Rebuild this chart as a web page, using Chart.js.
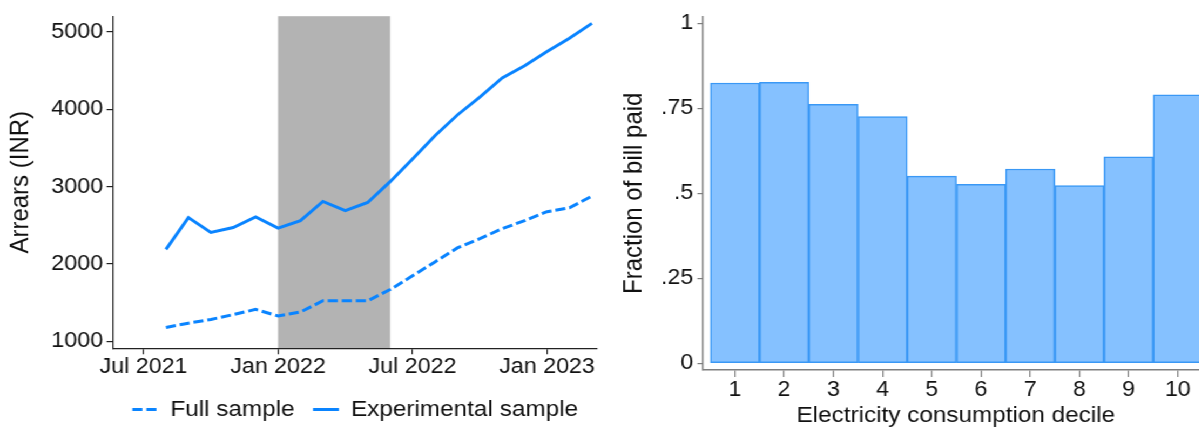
<!DOCTYPE html>
<html>
<head>
<meta charset="utf-8">
<title>Arrears and fraction of bill paid</title>
<script src="https://cdn.jsdelivr.net/npm/chart.js@4.4.1/dist/chart.umd.min.js"></script>
<style>
    html, body { margin: 0; padding: 0; overflow: hidden; background: #fff; }
    /* the source figure is slightly stretched sideways, so the page is too */
    #wrap { position: relative; width: 1111px; height: 427px; transform: scaleX(1.08); transform-origin: 0 0; }
    #left { position: absolute; left: 0; top: 0; }
    #right { position: absolute; left: 555px; top: 0; }
</style>
</head>
<body>
<div id="wrap">
    <canvas id="left" width="555" height="427"></canvas>
    <canvas id="right" width="565" height="427"></canvas>
</div>
<script>
// months counted from Jul 2021 = 0
const months = [1, 2, 3, 4, 5, 6, 7, 8, 9, 10, 11, 12, 13, 14, 15, 16, 17, 18, 19, 20];
const fullSample = [1181, 1236, 1283, 1347, 1414, 1329, 1380, 1525, 1525, 1525,
                    1670, 1848, 2027, 2209, 2329, 2457, 2562, 2677, 2728, 2877];
const experimentalSample = [2189, 2601, 2409, 2473, 2610, 2464, 2562, 2809, 2690, 2796,
                            3065, 3359, 3658, 3927, 4158, 4406, 4564, 4748, 4919, 5111];
const monthTicks = [0, 6, 12, 18];
const monthTickLabels = ['Jul 2021', 'Jan 2022', 'Jul 2022', 'Jan 2023'];
const arrearsTicks = [1000, 2000, 3000, 4000, 5000];
const shadedMonths = [6, 11];

const deciles = [1, 2, 3, 4, 5, 6, 7, 8, 9, 10];
const fractionPaid = [0.825, 0.827, 0.762, 0.726, 0.551, 0.527, 0.572, 0.523, 0.608, 0.790];
const fractionTicks = [0, 0.25, 0.5, 0.75, 1];
const fractionTickLabels = ['0', '.25', '.5', '.75', '1'];

const BLUE = '#0a84ff';
const TICK_FONT = { size: 21.5 };
Chart.defaults.font.family = '"Liberation Sans", Arial, Helvetica, sans-serif';
Chart.defaults.font.size = 21.5;
Chart.defaults.color = '#111';

const shadePlugin = {
    id: 'shade',
    beforeDraw(chart) {
        const { ctx, chartArea, scales } = chart;
        const x0 = scales.x.getPixelForValue(shadedMonths[0]);
        const x1 = scales.x.getPixelForValue(shadedMonths[1]);
        ctx.save();
        ctx.fillStyle = '#b3b3b3';
        ctx.fillRect(x0, chartArea.top, x1 - x0, chartArea.bottom - chartArea.top);
        ctx.restore();
    }
};

function points(xs, ys) {
    return xs.map((x, i) => ({ x: x, y: ys[i] }));
}

// legend samples as short lines with the dataset's own dash
function lineLabels(chart) {
    return Chart.defaults.plugins.legend.labels.generateLabels(chart).map(item => {
        const ds = chart.data.datasets[item.datasetIndex];
        item.pointStyle = 'line';
        item.lineDash = ds.borderDash || [];
        item.lineWidth = ds.borderWidth;
        item.strokeStyle = ds.borderColor;
        return item;
    });
}

new Chart(document.getElementById('left'), {
    type: 'line',
    data: {
        datasets: [{
            label: 'Full sample',
            data: points(months, fullSample),
            borderColor: BLUE,
            borderWidth: 3,
            borderDash: [9.3, 3.7],
            pointRadius: 0,
            tension: 0
        }, {
            label: 'Experimental sample',
            data: points(months, experimentalSample),
            borderColor: BLUE,
            borderWidth: 3,
            pointRadius: 0,
            tension: 0
        }]
    },
    options: {
        responsive: false,
        animation: false,
        layout: { padding: { top: 12, right: 2.2, left: 0, bottom: 0 } },
        plugins: {
            legend: {
                position: 'bottom',
                fullSize: false,
                maxHeight: 45.75,
                labels: {
                    usePointStyle: true,
                    pointStyleWidth: 24,
                    padding: 17,
                    color: '#111',
                    font: { size: 22.5 },
                    generateLabels: lineLabels
                }
            },
            tooltip: { enabled: false }
        },
        scales: {
            x: {
                type: 'linear',
                min: -1.35,
                max: 20.23,
                afterFit: s => { s.height = 32.95; },
                afterBuildTicks: s => { s.ticks = monthTicks.map(v => ({ value: v })); },
                ticks: {
                    padding: 0,
                    maxRotation: 0,
                    font: TICK_FONT,
                    callback: v => monthTickLabels[monthTicks.indexOf(v)]
                },
                grid: { drawOnChartArea: false, tickLength: 6, color: '#222', lineWidth: 1.2 },
                border: { color: '#222', width: 1.3 }
            },
            y: {
                min: 911,
                max: 5204,
                afterFit: s => { s.width = 104.9; },
                afterBuildTicks: s => { s.ticks = arrearsTicks.map(v => ({ value: v })); },
                ticks: { padding: 3.3, font: TICK_FONT, callback: v => String(v) },
                grid: { drawOnChartArea: false, tickLength: 6.2, color: '#222', lineWidth: 1.2 },
                border: { color: '#222', width: 1.2 },
                title: {
                    display: true,
                    text: 'Arrears (INR)',
                    font: { size: 24 },
                    padding: { top: 4.8, bottom: 0 }
                }
            }
        }
    },
    plugins: [shadePlugin]
});

new Chart(document.getElementById('right'), {
    type: 'bar',
    data: {
        datasets: [{
            label: 'Fraction of bill paid',
            data: points(deciles, fractionPaid),
            backgroundColor: '#85c1ff',
            borderColor: '#3a98f5',
            borderWidth: 1.5,
            borderSkipped: false,
            barPercentage: 1,
            categoryPercentage: 1
        }]
    },
    options: {
        responsive: false,
        animation: false,
        layout: { padding: { top: 12, right: 0.7, left: 0, bottom: 0 } },
        plugins: {
            legend: { display: false },
            tooltip: { enabled: false }
        },
        scales: {
            x: {
                type: 'linear',
                offset: false,
                min: 0.343,
                max: 10.63,
                afterFit: s => { s.height = 57; },
                afterBuildTicks: s => { s.ticks = deciles.map(v => ({ value: v })); },
                ticks: { padding: 0, maxRotation: 0, font: TICK_FONT },
                grid: { offset: false, drawOnChartArea: false, tickLength: 7, color: '#7f7f7f', lineWidth: 1.2 },
                border: { color: '#7f7f7f', width: 1.4 },
                title: {
                    display: true,
                    text: 'Electricity consumption decile',
                    font: { size: 22.5, lineHeight: 1 },
                    padding: { top: 0, bottom: 0 }
                }
            },
            y: {
                min: -0.0195,
                max: 1.0203,
                afterFit: s => { s.width = 95.6; },
                afterBuildTicks: s => { s.ticks = fractionTicks.map(v => ({ value: v })); },
                ticks: {
                    padding: 3.7,
                    font: TICK_FONT,
                    callback: v => fractionTickLabels[fractionTicks.indexOf(v)]
                },
                grid: { drawOnChartArea: false, tickLength: 4.9, color: '#7f7f7f', lineWidth: 1.2 },
                border: { color: '#7f7f7f', width: 1.4 },
                title: {
                    display: true,
                    text: 'Fraction of bill paid',
                    font: { size: 24 },
                    padding: { top: 17.5, bottom: 0 }
                }
            }
        }
    }
});
</script>
</body>
</html>
